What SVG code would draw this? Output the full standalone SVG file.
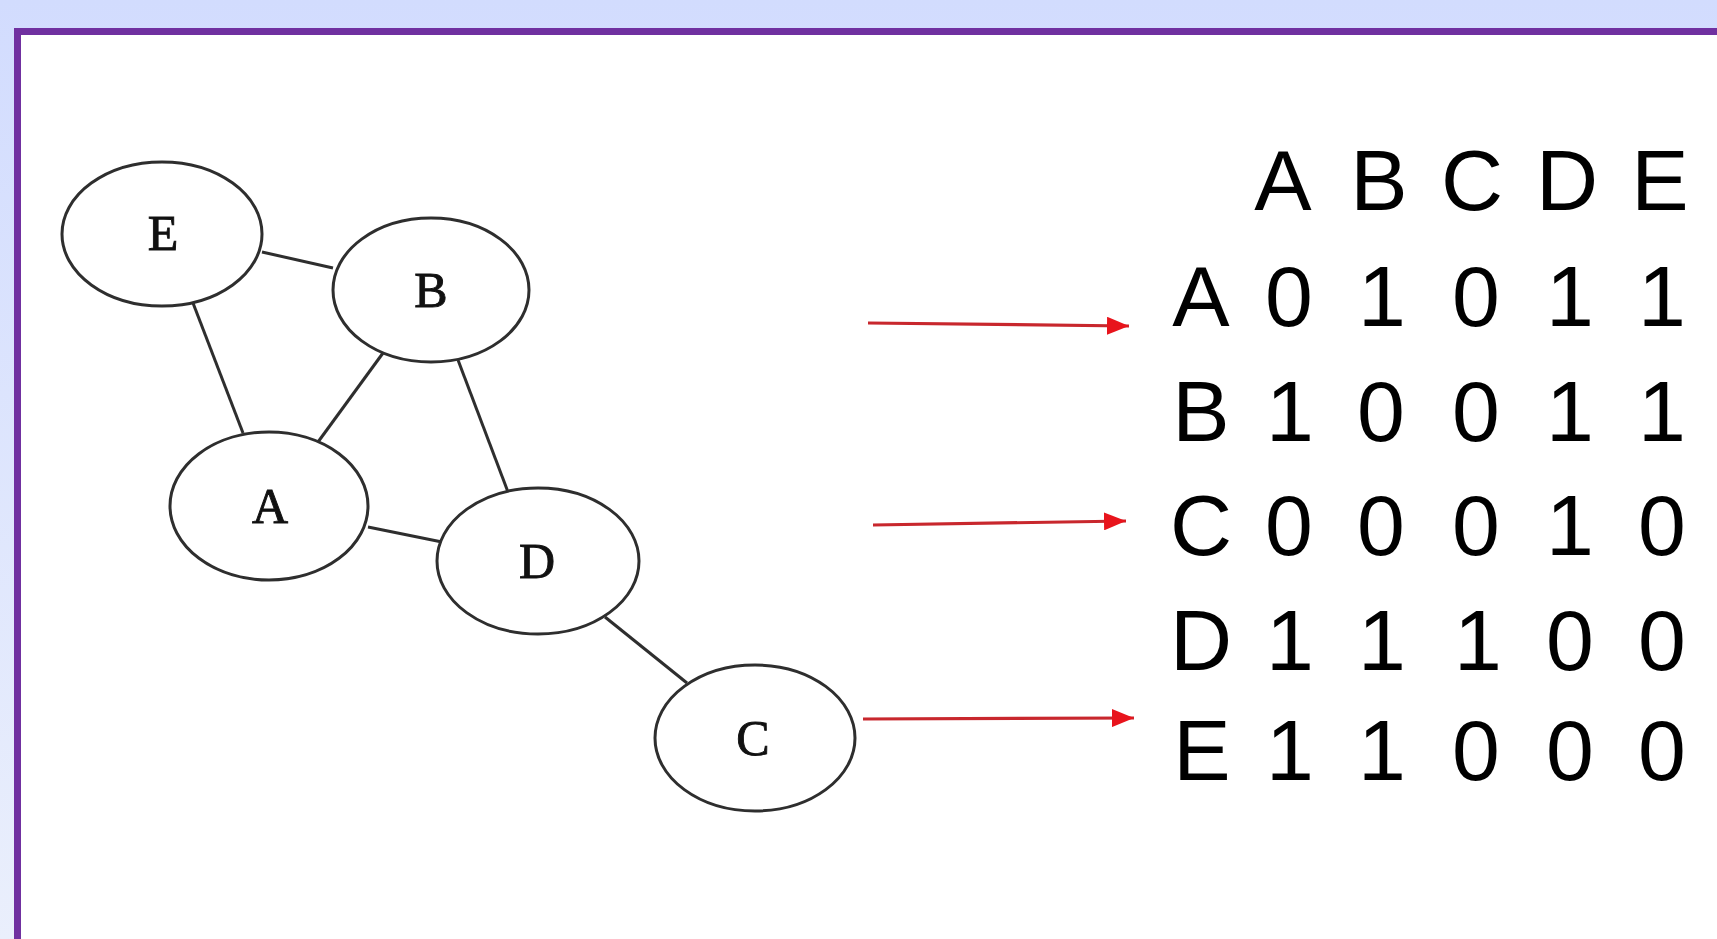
<svg xmlns="http://www.w3.org/2000/svg" width="1717" height="939" viewBox="0 0 1717 939">
<defs>
<linearGradient id="bg" x1="0" y1="0" x2="0" y2="1">
<stop offset="0" stop-color="#D2DCFE"/>
<stop offset="1" stop-color="#EAEFFC"/>
</linearGradient>
<marker id="ahr" viewBox="0 0 20 20" refX="20" refY="10" markerWidth="22" markerHeight="18" markerUnits="userSpaceOnUse" orient="auto" preserveAspectRatio="none">
<path d="M0,0 L20,10 L0,20 Z" fill="#E8141C"/>
</marker>
<style>
.node ellipse{fill:#FFFFFF;stroke:#2E2E2E;stroke-width:3}
.node text{font-family:"Liberation Serif","Times New Roman",serif;font-size:50px;fill:#111;stroke:#111;stroke-width:0.9;text-anchor:middle}
.edge{stroke:#2E2E2E;stroke-width:3;fill:none}
.arrow{stroke:#C8272D;stroke-width:3.2;fill:none;marker-end:url(#ahr)}
.m{font-family:"Liberation Sans",Arial,sans-serif;font-size:86px;fill:#000;text-anchor:middle}
</style>
</defs>
<rect x="0" y="0" width="1717" height="939" fill="url(#bg)"/>
<rect x="17.5" y="31.5" width="1740" height="940" fill="#FFFFFF" stroke="#7030A0" stroke-width="7"/>

<g id="connectors">
<line class="edge" x1="262" y1="252" x2="333" y2="268"/>
<line class="edge" x1="193" y1="303" x2="243" y2="433"/>
<line class="edge" x1="383" y1="353" x2="318" y2="442"/>
<line class="edge" x1="458" y1="360" x2="508" y2="492"/>
<line class="edge" x1="368" y1="527" x2="442" y2="542"/>
<line class="edge" x1="605" y1="617" x2="687" y2="683"/>
<line class="arrow" x1="868" y1="323" x2="1129" y2="326"/>
<line class="arrow" x1="873" y1="525" x2="1126" y2="521"/>
<line class="arrow" x1="863" y1="719" x2="1134" y2="718"/>
</g>

<g id="node-E" class="node"><ellipse cx="162" cy="234" rx="100" ry="72"/><text x="163" y="250">E</text></g>
<g id="node-B" class="node"><ellipse cx="431" cy="290" rx="98" ry="72"/><text x="431" y="307">B</text></g>
<g id="node-A" class="node"><ellipse cx="269" cy="506" rx="99" ry="74"/><text x="270" y="523">A</text></g>
<g id="node-D" class="node"><ellipse cx="538" cy="561" rx="101" ry="73"/><text x="537" y="578">D</text></g>
<g id="node-C" class="node"><ellipse cx="755" cy="738" rx="100" ry="73"/><text x="753" y="755">C</text></g>

<g id="matrix">
<text class="m" x="1283" y="210">A</text>
<text class="m" x="1379" y="210">B</text>
<text class="m" x="1472" y="210">C</text>
<text class="m" x="1567" y="210">D</text>
<text class="m" x="1660" y="210">E</text>

<text class="m" x="1201" y="326">A</text>
<text class="m" x="1289" y="326">0</text>
<text class="m" x="1382" y="326">1</text>
<text class="m" x="1476" y="326">0</text>
<text class="m" x="1570" y="326">1</text>
<text class="m" x="1662" y="326">1</text>

<text class="m" x="1201" y="441">B</text>
<text class="m" x="1290" y="441">1</text>
<text class="m" x="1381" y="441">0</text>
<text class="m" x="1476" y="441">0</text>
<text class="m" x="1570" y="441">1</text>
<text class="m" x="1662" y="441">1</text>

<text class="m" x="1201" y="555">C</text>
<text class="m" x="1289" y="555">0</text>
<text class="m" x="1381" y="555">0</text>
<text class="m" x="1476" y="555">0</text>
<text class="m" x="1570" y="555">1</text>
<text class="m" x="1662" y="555">0</text>

<text class="m" x="1201" y="670">D</text>
<text class="m" x="1290" y="670">1</text>
<text class="m" x="1382" y="670">1</text>
<text class="m" x="1478" y="670">1</text>
<text class="m" x="1570" y="670">0</text>
<text class="m" x="1662" y="670">0</text>

<text class="m" x="1202" y="780">E</text>
<text class="m" x="1290" y="780">1</text>
<text class="m" x="1382" y="780">1</text>
<text class="m" x="1476" y="780">0</text>
<text class="m" x="1570" y="780">0</text>
<text class="m" x="1662" y="780">0</text>
</g>
</svg>
